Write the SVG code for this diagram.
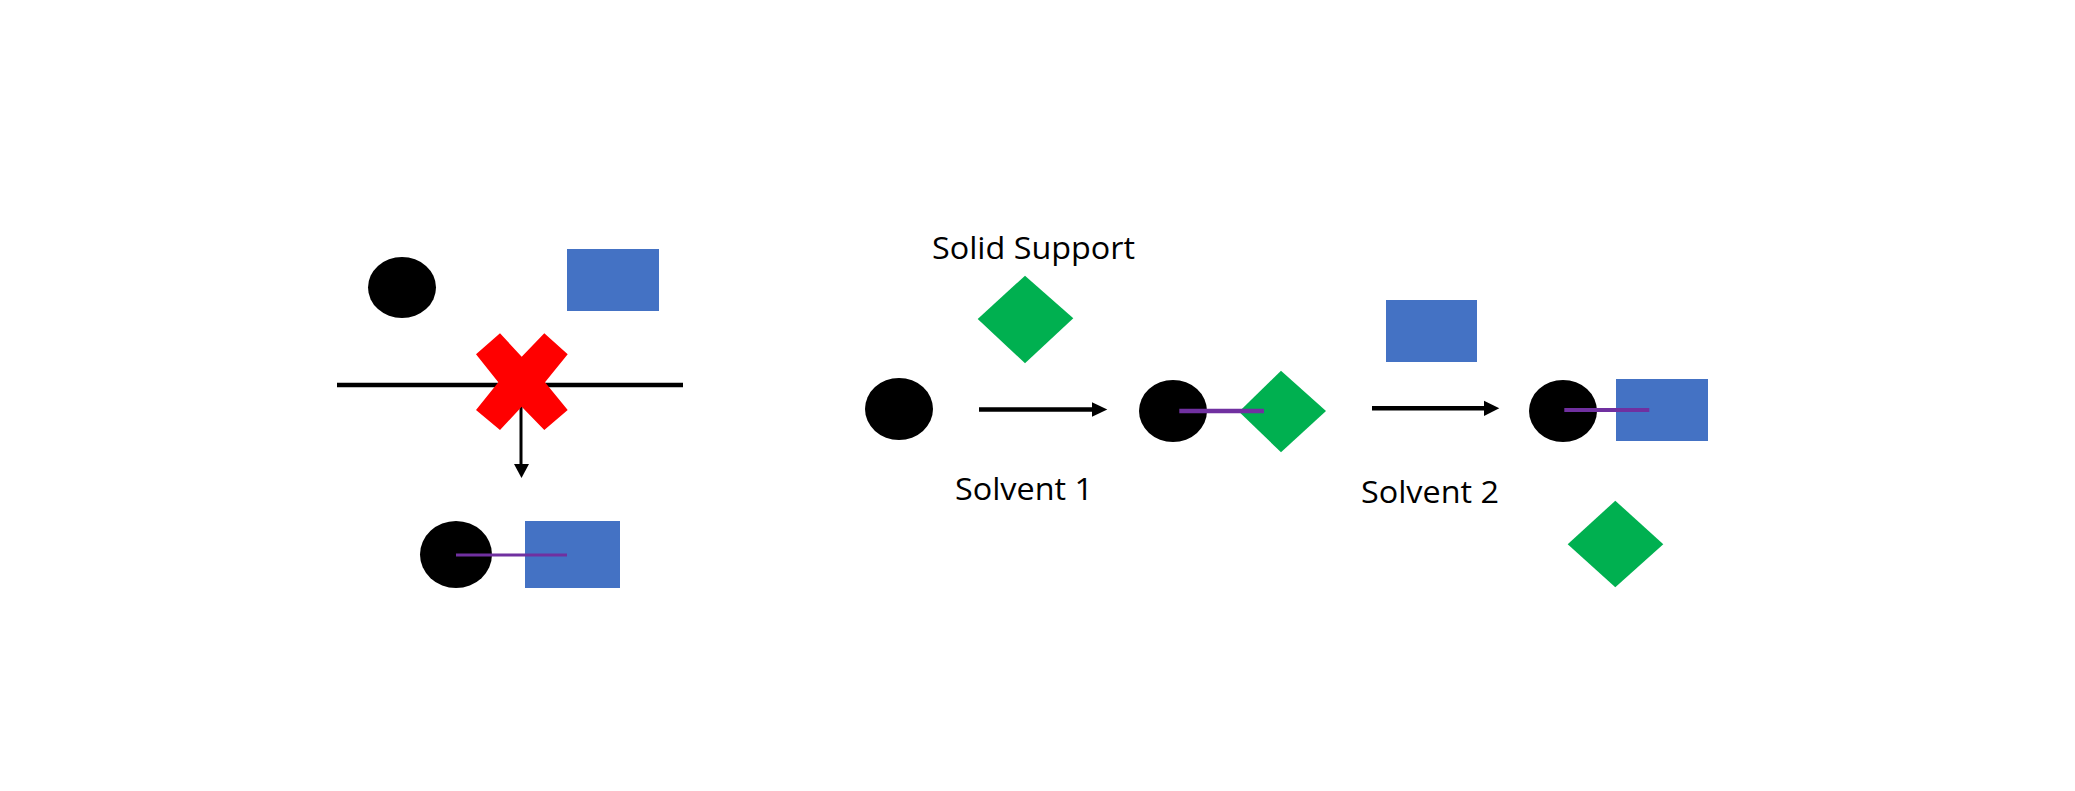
<svg xmlns="http://www.w3.org/2000/svg" width="2075" height="791" viewBox="0 0 2075 791">
<defs>
<style>
.blk{fill:#000000}
.blue{fill:#4472C4}
.green{fill:#00B050}
.red{fill:#FF0000}
.bond{stroke:#7030A0;stroke-width:4;fill:none}
.line{stroke:#000000;stroke-width:4.5;fill:none}
.lbl{font-family:"Open Sans","Liberation Sans",sans-serif;font-size:31px;fill:#000000}
</style>
<marker id="ah" viewBox="0 0 10 10" refX="10" refY="5" markerWidth="4" markerHeight="4" markerUnits="strokeWidth" orient="auto">
<path d="M0,0 L10,5 L0,10 Z" fill="#000000"/>
</marker>
</defs>
<rect width="2075" height="791" fill="#ffffff"/>
<g id="connectors">
<line class="line" x1="337" y1="385" x2="683" y2="385"/>
<line x1="521" y1="405" x2="521" y2="464" stroke="#000" stroke-width="3"/>
<polygon points="514,464 529,464 521.5,478" fill="#000"/>
<line x1="979" y1="409.5" x2="1093" y2="409.5" stroke="#000" stroke-width="4.5"/>
<polygon points="1092,402.3 1107.3,409.5 1092,416.7" fill="#000"/>
<line x1="1372" y1="408.3" x2="1485" y2="408.3" stroke="#000" stroke-width="4.5"/>
<polygon points="1484,400.7 1499.3,408.3 1484,416" fill="#000"/>
</g>
<g id="blocked-x">
<polygon class="red" points="476,354.3 500,333.3 521.7,356.7 544.3,333.3 567.7,354.3 545,382.3 567.7,410 544.3,430 521.7,406.7 500,430 476,410 498.3,382.3"/>
</g>
<g id="left-reactants">
<ellipse class="blk" cx="402" cy="287.5" rx="34" ry="30.5"/>
<rect class="blue" x="567" y="249" width="92" height="62"/>
</g>
<g id="left-product">
<ellipse class="blk" cx="456" cy="554.5" rx="36" ry="33.5"/>
<rect class="blue" x="525" y="521" width="95" height="67"/>
<line class="bond" x1="456" y1="555" x2="567" y2="555" style="stroke-width:3"/>
</g>
<g id="solid-support">
<text class="lbl" x="932" y="259" textLength="203" lengthAdjust="spacingAndGlyphs">Solid Support</text>
<polygon class="green" points="1025,275.7 1073.3,318.3 1025,363.3 977.7,319"/>
</g>
<g id="start">
<ellipse class="blk" cx="899" cy="409" rx="34" ry="31"/>
</g>
<g id="solvent1-label">
<text class="lbl" x="955" y="500" textLength="138" lengthAdjust="spacingAndGlyphs">Solvent 1</text>
</g>
<g id="bound-support">
<ellipse class="blk" cx="1173" cy="411" rx="34" ry="31"/>
<polygon class="green" points="1281,370.7 1326,411 1281,452.3 1239,411.7"/>
<line class="bond" x1="1179.3" y1="411" x2="1264" y2="411" style="stroke-width:4.5"/>
</g>
<g id="blue-reagent">
<rect class="blue" x="1386" y="300" width="91" height="62"/>
</g>
<g id="solvent2-label">
<text class="lbl" x="1361" y="503.3" textLength="138" lengthAdjust="spacingAndGlyphs">Solvent 2</text>
</g>
<g id="final-product">
<ellipse class="blk" cx="1563" cy="411" rx="34" ry="31"/>
<rect class="blue" x="1616" y="379" width="92" height="62"/>
<line class="bond" x1="1564.3" y1="410" x2="1649.3" y2="410"/>
</g>
<g id="released-support">
<polygon class="green" points="1615.3,500.7 1663.3,544.3 1615.3,587.3 1567.7,544.3"/>
</g>
</svg>
